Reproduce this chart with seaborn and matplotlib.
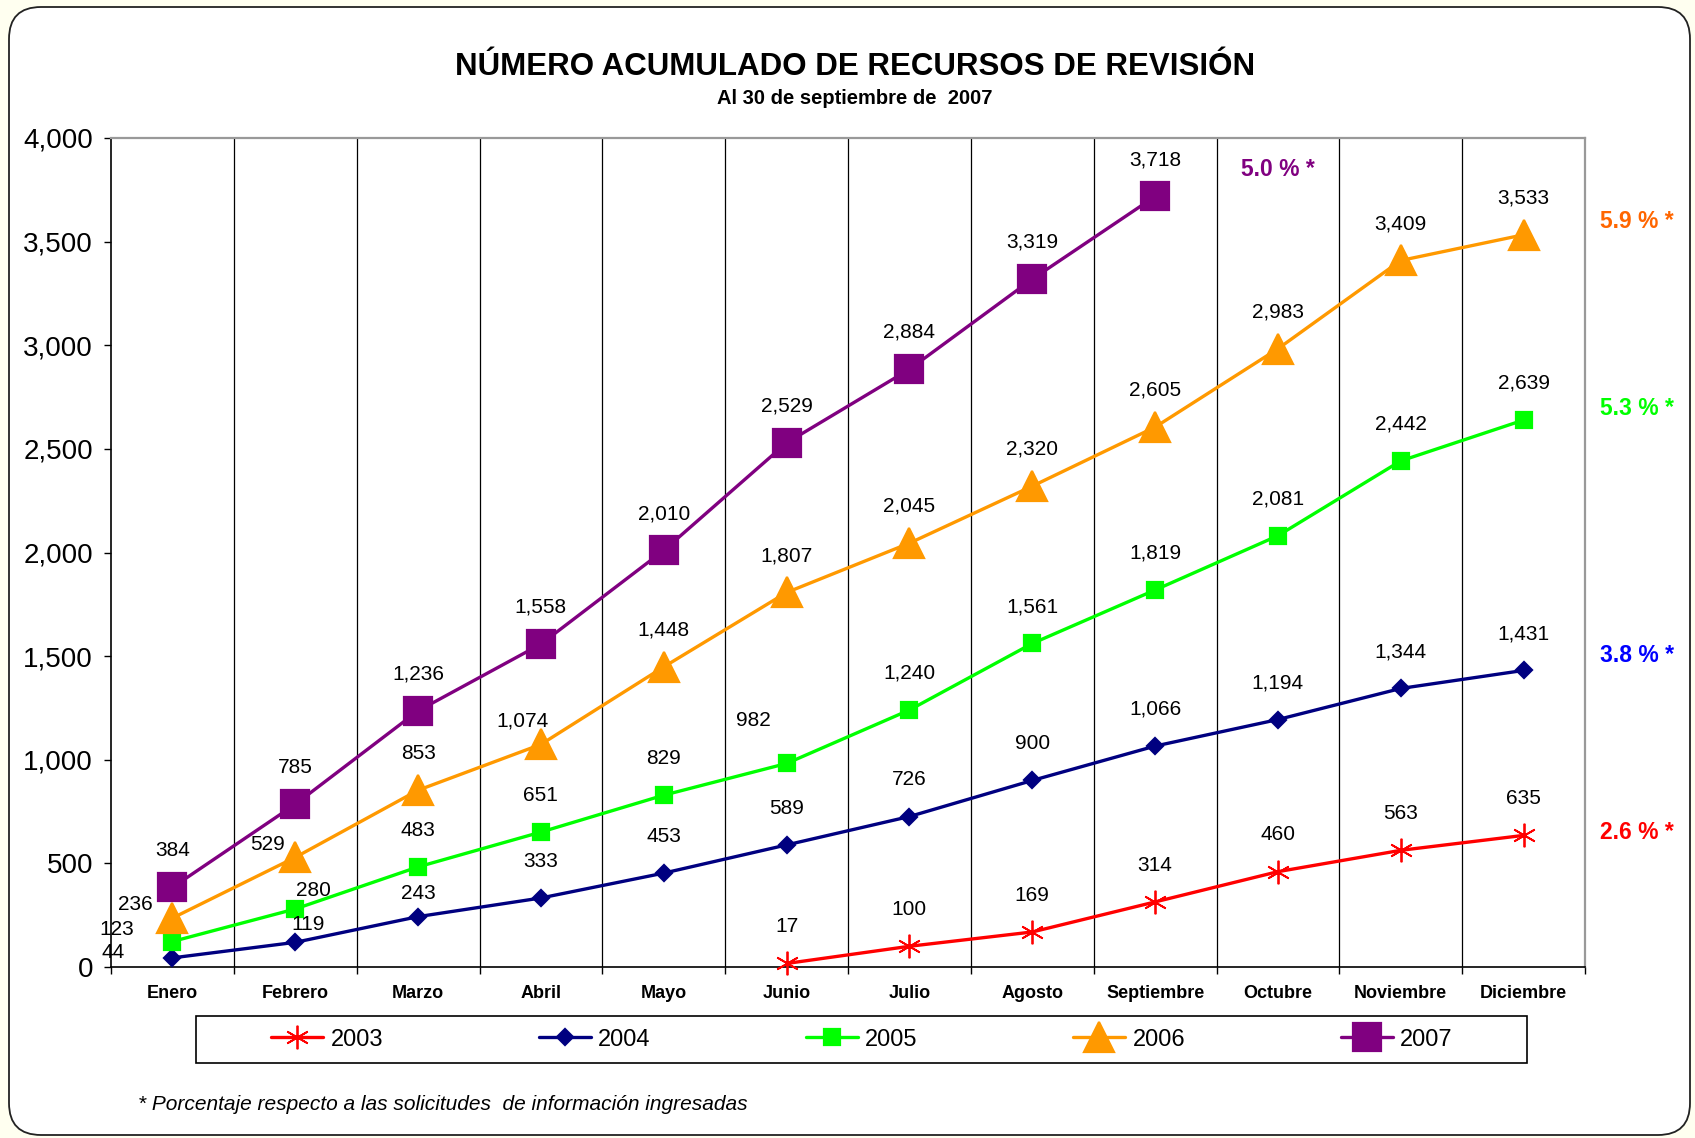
import numpy as np
import pandas as pd
import seaborn as sns
import matplotlib.pyplot as plt
from matplotlib.patches import FancyBboxPatch, Rectangle
from matplotlib.transforms import IdentityTransform
from matplotlib.ticker import FuncFormatter, MultipleLocator

# datos
meses = ["Enero", "Febrero", "Marzo", "Abril", "Mayo", "Junio", "Julio",
         "Agosto", "Septiembre", "Octubre", "Noviembre", "Diciembre"]
nan = np.nan
v2003 = [nan, nan, nan, nan, nan, 17, 100, 169, 314, 460, 563, 635]
v2004 = [44, 119, 243, 333, 453, 589, 726, 900, 1066, 1194, 1344, 1431]
v2005 = [123, 280, 483, 651, 829, 982, 1240, 1561, 1819, 2081, 2442, 2639]
v2006 = [236, 529, 853, 1074, 1448, 1807, 2045, 2320, 2605, 2983, 3409, 3533]
v2007 = [384, 785, 1236, 1558, 2010, 2529, 2884, 3319, 3718, nan, nan, nan]
anios = ["2003", "2004", "2005", "2006", "2007"]
porcentajes = ["2.6 % *", "3.8 % *", "5.3 % *", "5.9 % *", "5.0 % *"]

series = dict(zip(anios, [v2003, v2004, v2005, v2006, v2007]))
pct = dict(zip(anios, porcentajes))

# estilo de cada serie
colores = {"2003": "#FF0000", "2004": "#000080", "2005": "#00FF00",
           "2006": "#FF9900", "2007": "#800080"}
marcadores = {"2003": (6, 2, 0), "2004": "D", "2005": "s", "2006": "^", "2007": "s"}
tamanos = {"2003": 17, "2004": 8, "2005": 11, "2006": 21, "2007": 20}
color_pct = {"2003": "#FF0000", "2004": "#0000FF", "2005": "#00FF00",
             "2006": "#FF6600", "2007": "#800080"}
pos_pct = {"2003": (11.92, 647), "2004": (11.92, 1502), "2005": (11.92, 2696),
           "2006": (11.92, 3598), "2007": (9.0, 3849)}

# desplazamientos especiales de etiquetas (en puntos)
desplaz = {("2004", 0): (-43, 4), ("2005", 0): (-40, 8.5), ("2006", 0): (-27, 10),
           ("2006", 1): (-20, 9.5), ("2005", 1): (13, 13), ("2004", 1): (9.5, 13),
           ("2004", 2): (0, 16.5), ("2006", 3): (-13, 17), ("2005", 5): (-24, 31)}

sns.set_style("white")
plt.rcParams["font.family"] = ["Liberation Sans", "DejaVu Sans"]
plt.rcParams["text.color"] = "black"
plt.rcParams["xtick.color"] = "black"
plt.rcParams["ytick.color"] = "black"
plt.rcParams["axes.labelcolor"] = "black"

W, H = 1695, 1138
fig = plt.figure(figsize=(W / 100, H / 100), dpi=100, facecolor="#FFFFF0")

marco = FancyBboxPatch((9, 3), 1681, 1128, boxstyle="round,pad=0,rounding_size=32",
                       transform=IdentityTransform(), fc="white", ec="#222222",
                       lw=1.3, zorder=-5)
fig.patches.append(marco)

ax = fig.add_axes([111 / W, 1 - 967 / H, (1585 - 111) / W, (967 - 138) / H])
ax.set_facecolor("white")

x = np.arange(len(meses))
for anio in anios:
    sns.lineplot(x=x, y=series[anio], ax=ax, color=colores[anio],
                 marker=marcadores[anio], markersize=tamanos[anio],
                 markeredgecolor=colores[anio],
                 markeredgewidth=1.3 if anio == "2003" else 1.6,
                 linewidth=2.4, label=anio, clip_on=False, zorder=3)
    for i, v in enumerate(series[anio]):
        if np.isnan(v):
            continue
        dx, dy = desplaz.get((anio, i), (0, 26.5))
        ax.annotate(f"{int(v):,}", (i, v), xytext=(dx, dy), textcoords="offset points",
                    ha="center", va="center", fontsize=15, color="black", zorder=4)
    px, py = pos_pct[anio]
    ax.text(px, py, pct[anio], color=color_pct[anio], fontsize=16.5,
            fontweight="bold", ha="center", va="center", clip_on=False)

handles, labels = ax.get_legend_handles_labels()
ax.get_legend().remove()

ax.set_xlim(-0.5, 11.5)
ax.set_ylim(0, 4000)
ax.yaxis.set_major_locator(MultipleLocator(500))
ax.yaxis.set_major_formatter(FuncFormatter(lambda v, p: f"{int(v):,}"))
ax.set_xticks(x)
ax.set_xticklabels(meses, fontsize=13, fontweight="bold")
ax.set_xticks(np.arange(-0.5, 12, 1), minor=True)
ax.tick_params(axis="x", which="major", length=0, pad=13)
ax.tick_params(axis="x", which="minor", length=5, width=1, color="black",
               direction="out", bottom=True)
ax.tick_params(axis="y", which="major", length=5, width=1, color="black",
               direction="out", labelsize=20, pad=8, left=True)
ax.grid(False)
for xv in np.arange(0.5, 11.5, 1):
    ax.axvline(xv, color="black", lw=0.9, zorder=1)

for lado in ["left", "bottom"]:
    ax.spines[lado].set_color("black")
    ax.spines[lado].set_linewidth(1.2)
for lado in ["top", "right"]:
    ax.spines[lado].set_color("#999999")
    ax.spines[lado].set_linewidth(1.6)

fig.text(855 / W, 1 - 67 / H, "NÚMERO ACUMULADO DE RECURSOS DE REVISIÓN",
         ha="center", va="center", fontsize=22.5, fontweight="bold")
fig.text(855 / W, 1 - 98 / H, "Al 30 de septiembre de  2007",
         ha="center", va="center", fontsize=14.5, fontweight="bold")

# leyenda con marco propio
fig.patches.append(Rectangle((196, H - 1063), 1331, 47, transform=IdentityTransform(),
                             fc="white", ec="black", lw=1.2, zorder=1))
fig.legend(handles, labels, loc="center", bbox_to_anchor=(862 / W, 1 - 1039.5 / H),
           ncol=5, frameon=False, fontsize=17, handlelength=2.2, handletextpad=0.3,
           columnspacing=6.6)

fig.text(138 / W, 1 - 1104 / H,
         "* Porcentaje respecto a las solicitudes  de información ingresadas",
         ha="left", va="center", fontsize=15, fontstyle="italic")

fig.savefig("out.png", dpi=100, facecolor=fig.get_facecolor())
